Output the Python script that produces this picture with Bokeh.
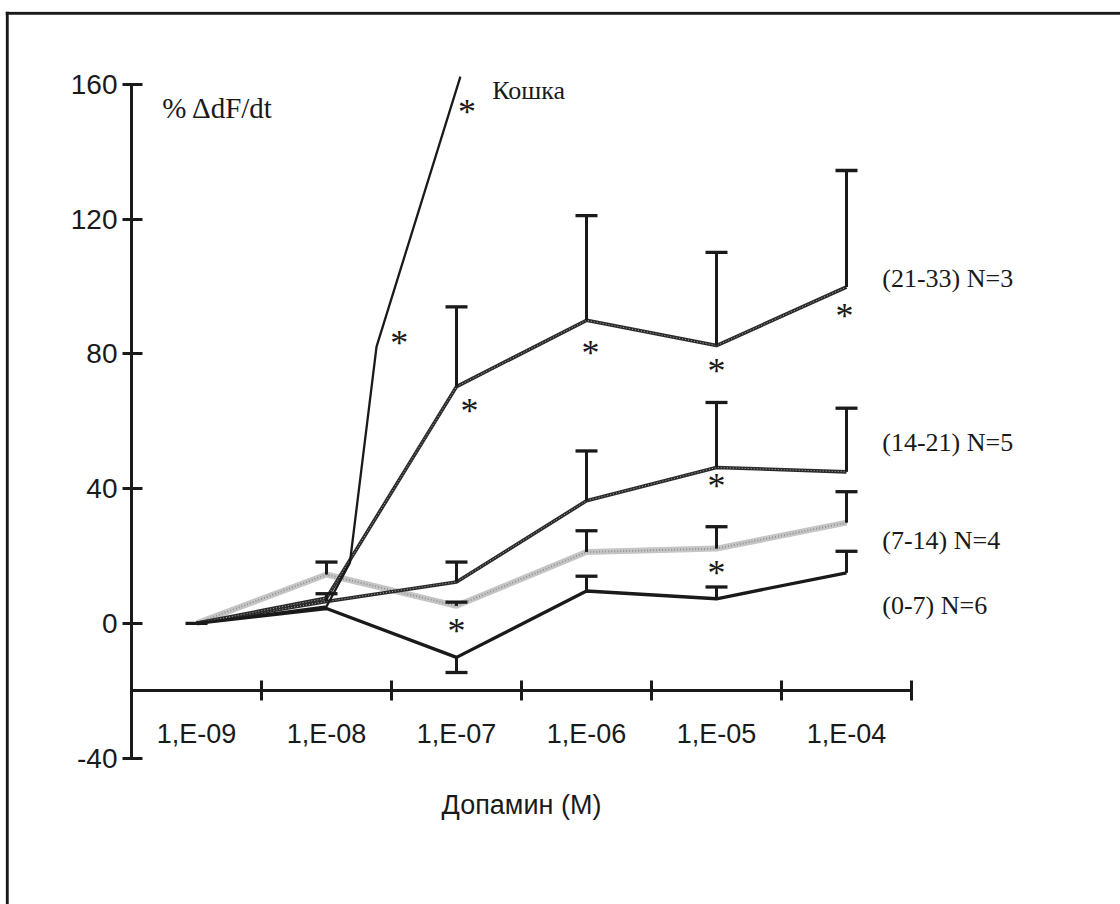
from bokeh.plotting import figure
from bokeh.models import Range1d, FixedTicker, LinearAxis, Span, Label, ColumnDataSource
from bokeh.core.properties import value
from bokeh.embed import file_html
from bokeh.resources import INLINE

nan = float("nan")

# ---- data ----
doses = ["1,E-09", "1,E-08", "1,E-07", "1,E-06", "1,E-05", "1,E-04"]
dose_log = [-9, -8, -7, -6, -5, -4]

g07 = [0, 4.4, -10.1, 9.6, 7.3, 15.0]
g07_tip = [0, nan, -14.6, 14.0, 10.8, 21.4]
g714 = [0, 14.5, 5.2, 21.2, 22.2, 29.9]
g714_tip = [nan, 18.2, 6.3, 27.5, 28.7, 39.1]
g1421 = [0, 6.5, 12.3, 36.4, 46.3, 45.0]
g1421_tip = [nan, 8.8, 18.2, 51.2, 65.6, 63.9]
g2133 = [0, 7.5, 70.3, 90.0, 82.5, 99.9]
g2133_tip = [nan, nan, 94.0, 121.1, 110.2, 134.5]

cat_log = [-9, -8, -7.82, -7.615, -6.97]
cat_vals = [0, 5, 18, 82.2, 162.4]

star_log = [-6.92, -7.44, -6.90, -5.97, -5.0, -4.015, -5.0, -5.0, -7.0]
star_y = [152.7, 84.2, 63.9, 81.3, 75.8, 92.2, 41.6, 15.8, -1.3]

series_labels = ["(21-33) N=3", "(14-21) N=5", "(7-14) N=4", "(0-7) N=6"]
series_label_y = [99.8, 50.9, 22.0, 2.6]
y_ticks = [-40, 0, 40, 80, 120, 160]

SERIF = "Liberation Serif"
SANS = "Liberation Sans"
INK = "#1a1a1a"

def xpos(logs):
    return [l + 9 for l in logs]

x = xpos(dose_log)

PX_X = 130.0     # pixels per x unit
PX_Y = 3.365     # pixels per y unit
X0, X1 = (5 - 196) / PX_X, (1120 - 196) / PX_X
Y0, Y1 = (623 - 904) / PX_Y, (623 - 11.5) / PX_Y

p = figure(width=1120, height=904,
           x_range=Range1d(X0, X1), y_range=Range1d(Y0, Y1),
           output_backend="svg", toolbar_location=None,
           x_axis_type=None, y_axis_type=None,
           min_border_left=5, min_border_right=0,
           min_border_top=11, min_border_bottom=0)
p.outline_line_color = None
p.background_fill_color = "white"
p.border_fill_color = "white"

# y axis
yaxis = LinearAxis(ticker=FixedTicker(ticks=y_ticks), bounds=(-40, 160),
                   fixed_location=-0.5,
                   axis_line_width=3, axis_line_color=INK,
                   major_tick_line_width=3, major_tick_line_color=INK,
                   major_tick_in=11, major_tick_out=9,
                   minor_tick_line_color=None,
                   major_label_overrides={-40: "-40"},
                   major_label_text_font=SANS, major_label_text_font_size="28px",
                   major_label_text_color=INK, major_label_standoff=5)
p.add_layout(yaxis, "left")

# x axis (band boundaries)
bounds_ticks = [i - 0.5 for i in range(len(doses) + 1)]
xaxis1 = LinearAxis(ticker=FixedTicker(ticks=bounds_ticks), bounds=(-0.5, 5.5),
                    fixed_location=-20,
                    axis_line_width=3, axis_line_color=INK,
                    major_tick_line_width=3, major_tick_line_color=INK,
                    major_tick_in=10, major_tick_out=10,
                    minor_tick_line_color=None,
                    major_label_overrides={t: "" for t in bounds_ticks},
                    major_label_text_font_size="1px")
p.add_layout(xaxis1, "below")

xaxis2 = LinearAxis(ticker=FixedTicker(ticks=x), fixed_location=-20,
                    axis_line_color=None, major_tick_line_color=None,
                    major_tick_in=0, major_tick_out=0, minor_tick_line_color=None,
                    major_label_overrides={xx: d for xx, d in zip(x, doses)},
                    major_label_text_font=SANS, major_label_text_font_size="27px",
                    major_label_text_color=INK, major_label_standoff=28)
p.add_layout(xaxis2, "below")

p.add_layout(Label(x=2.5, y=-54.1, text="Допамин (M)", text_align="center",
                   text_baseline="middle", text_font=SANS, text_font_size="27px",
                   text_color=INK))

# lines
p.line(x, g714, line_color="#c6c6c6", line_width=6)
p.line(x, g714, line_color="#8f8f8f", line_width=2, line_dash="1 2")
p.line(x, g07, line_color=INK, line_width=3.3)
p.line(x, g1421, line_color="#2a2a2a", line_width=3.6)
p.line(x, g1421, line_color="#b0b0b0", line_width=1, line_dash="1 2")
p.line(x, g2133, line_color="#2a2a2a", line_width=3.6)
p.line(x, g2133, line_color="#b0b0b0", line_width=1, line_dash="1 2")
p.line(xpos(cat_log), cat_vals, line_color=INK, line_width=2.3)

# error bars
for vals, tips in [(g07, g07_tip), (g714, g714_tip), (g1421, g1421_tip), (g2133, g2133_tip)]:
    src = ColumnDataSource(dict(x=x, v=vals, t=tips))
    p.segment(x0="x", y0="v", x1="x", y1="t", source=src, line_color=INK, line_width=3)
    p.scatter(x="x", y="t", source=src, marker="dash", size=22, line_color=INK, line_width=3.3)

# significance asterisks
p.text(x=xpos(star_log), y=star_y, text=["*"] * len(star_y), text_font=value(SERIF),
       text_font_size="36px", text_align="center", text_baseline="alphabetic",
       y_offset=3, text_color=INK)

# series labels
p.text(x=[5.275] * len(series_labels), y=series_label_y, text=series_labels,
       text_font=value(SERIF), text_font_size="26px", text_align="left",
       text_baseline="alphabetic", y_offset=-9, text_color=INK)
p.text(x=[2.275], y=[155.4], text=["Кошка"], text_font=value(SERIF),
       text_font_size="26px", text_align="left", text_baseline="alphabetic",
       y_offset=-10, text_color=INK)
p.text(x=[-0.264], y=[149.6], text=["% ΔdF/dt"], text_font=value(SERIF),
       text_font_size="29px", text_align="left", text_baseline="alphabetic",
       y_offset=-12, text_color=INK)

# outer border: only the top and left edges are visible in the picture
p.add_layout(Span(location=X0 + 1.7 / PX_X, dimension="height", line_color=INK, line_width=3))
p.add_layout(Span(location=Y1 - 1.7 / PX_Y, dimension="width", line_color=INK, line_width=3))

open("out.html", "w").write(file_html(p, INLINE))
